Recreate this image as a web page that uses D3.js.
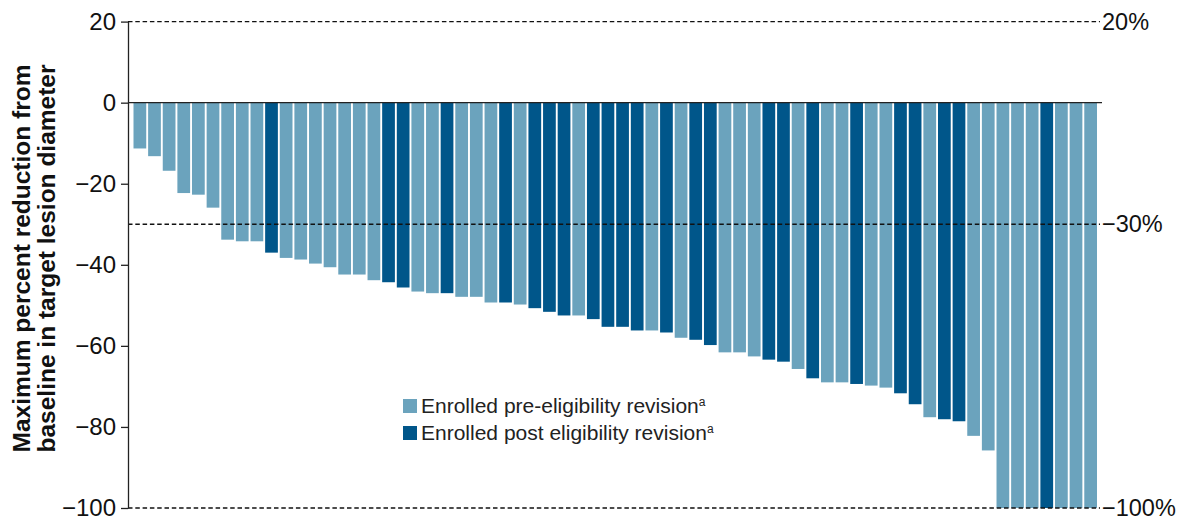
<!DOCTYPE html>
<html><head><meta charset="utf-8">
<script src="https://cdn.jsdelivr.net/npm/d3@7"></script>
<style>body{margin:0;background:#fff} svg{display:block}</style>
</head><body>
<svg id="c" width="1183" height="520"></svg>
<script>
// Maximum percent change from baseline, one value per patient (waterfall order)
const values = [
  -11.3, -13.2, -16.8, -22.3, -22.7, -25.9, -33.8, -34.2, -34.2, -37.0,
  -38.3, -38.7, -39.7, -40.6, -42.4, -42.4, -43.8, -44.3, -45.6, -46.6,
  -47.0, -47.0, -47.9, -47.9, -49.3, -49.3, -49.8, -50.7, -51.6, -52.5,
  -52.5, -53.4, -55.3, -55.3, -56.2, -56.2, -56.7, -58.0, -58.5, -59.8,
  -61.6, -61.6, -62.6, -63.4, -63.9, -65.7, -68.0, -69.0, -69.0, -69.4,
  -69.8, -70.3, -71.7, -74.4, -77.6, -78.1, -78.6, -82.2, -85.8, -100,
  -100, -100, -100, -100, -100, -100
];
// enrolment group for each bar
const groups = [
  "pre","pre","pre","pre","pre","pre","pre","pre","pre","post",
  "pre","pre","pre","pre","pre","pre","pre","post","post","pre",
  "pre","post","pre","pre","pre","post","pre","post","post","post",
  "pre","post","post","post","post","pre","post","pre","post","post",
  "pre","pre","pre","post","post","pre","post","pre","pre","post",
  "pre","pre","post","post","pre","post","post","pre","pre","pre",
  "pre","pre","post","pre","pre","pre"
];
const yTicks = [20, 0, -20, -40, -60, -80, -100];
const refLines = [20, -30, -100];
const refLabels = ["20%", "\u221230%", "\u2212100%"];
const legendKeys = ["pre", "post"];
const legendLabels = ["Enrolled pre-eligibility revision", "Enrolled post eligibility revision"];
const titleLines = ["Maximum percent reduction from", "baseline in target lesion diameter"];

const colors = {pre: "#6ba3bd", post: "#00568a"};
const FONT = "'Liberation Sans', Arial, Helvetica, sans-serif";

const svg = d3.select("#c");
const axisX = 128;
const x = d3.scaleBand().domain(d3.range(values.length)).range([133.5, 1097]).paddingInner(0.13);
const y = d3.scaleLinear().domain([-100, 20]).range([508, 21.6]);

// bars
svg.append("g").selectAll("rect").data(values).join("rect")
  .attr("x", (d, i) => x(i))
  .attr("width", x.bandwidth())
  .attr("y", y(0))
  .attr("height", d => y(d) - y(0))
  .attr("fill", (d, i) => colors[groups[i]]);

// zero line
svg.append("line")
  .attr("x1", axisX).attr("x2", 1102)
  .attr("y1", y(0)).attr("y2", y(0))
  .attr("stroke", "#222").attr("stroke-width", 1.2);

// reference dashed lines
svg.append("g").selectAll("line").data(refLines).join("line")
  .attr("x1", axisX).attr("x2", 1100)
  .attr("y1", d => y(d)).attr("y2", d => y(d))
  .attr("stroke", "#111").attr("stroke-width", 1.4)
  .attr("stroke-dasharray", "4.5,2.8");

svg.append("g").selectAll("text").data(refLines).join("text")
  .attr("x", 1102).attr("y", d => y(d))
  .attr("dy", "0.34em")
  .attr("font-family", FONT).attr("font-size", 23.5).attr("fill", "#111")
  .text((d, i) => refLabels[i]);

// left axis
const axis = d3.axisLeft(y).tickValues(yTicks).tickSize(7).tickSizeOuter(0).tickPadding(5)
  .tickFormat(d => d < 0 ? "\u2212" + Math.abs(d) : String(d));
const ag = svg.append("g").attr("transform", `translate(${axisX},0)`).call(axis);
ag.select(".domain").attr("stroke", "#222").attr("stroke-width", 1.3);
ag.selectAll(".tick line").attr("stroke", "#222").attr("stroke-width", 1.3);
ag.selectAll(".tick text").attr("font-family", FONT).attr("font-size", 24).attr("fill", "#111");

// y title
titleLines.forEach((t, i) => {
  svg.append("text")
    .attr("transform", `translate(${30 + i * 24.5},258.5) rotate(-90)`)
    .attr("text-anchor", "middle")
    .attr("font-family", FONT).attr("font-weight", "bold").attr("font-size", 24.5).attr("fill", "#111")
    .text(t);
});

// legend
const lg = svg.append("g").attr("transform", "translate(403,399)");
legendKeys.forEach((k, i) => {
  lg.append("rect").attr("x", 0).attr("y", i * 27).attr("width", 14).attr("height", 14).attr("fill", colors[k]);
  const tx = lg.append("text").attr("x", 18).attr("y", i * 27 + 14)
    .attr("font-family", FONT).attr("font-size", 21).attr("fill", "#222");
  tx.append("tspan").text(legendLabels[i]);
  tx.append("tspan").attr("font-size", 12).attr("dy", -7).text("a");
});
</script>
</body></html>
